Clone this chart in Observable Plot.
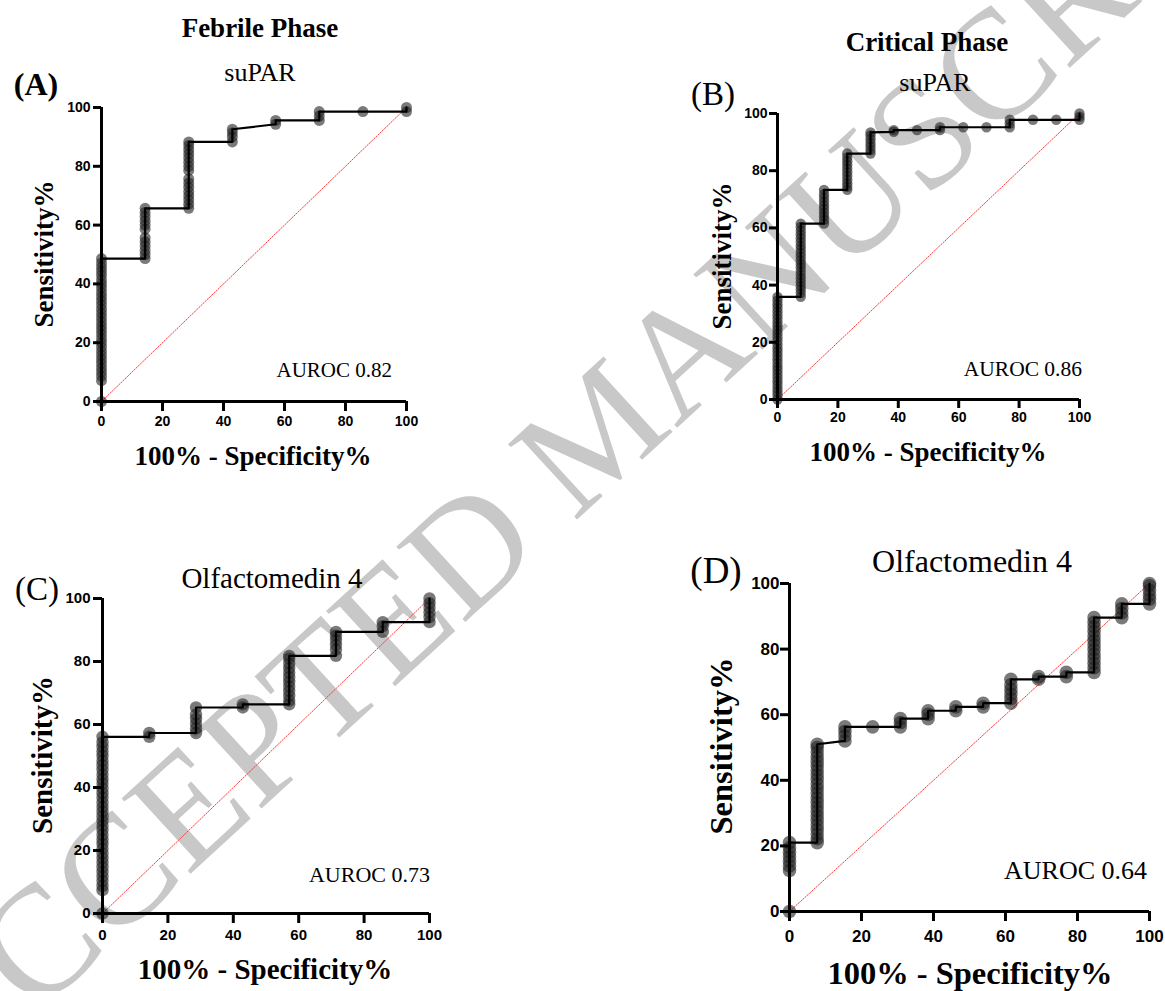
<!DOCTYPE html>
<html>
<head>
<meta charset="utf-8">
<script src="https://cdn.jsdelivr.net/npm/d3@7"></script>
<script src="https://cdn.jsdelivr.net/npm/@observablehq/plot@0.6"></script>
<style>
  body { margin: 0; background: #fff; }
  #root { position: relative; width: 1165px; height: 991px; overflow: hidden; background: #fff; }
  .abs { position: absolute; white-space: nowrap; font-family: "Liberation Serif", "Times New Roman", serif; color: #000; line-height: 1; z-index: 3; }
  .panel { position: absolute; z-index: 2; }
  .panel text { font-family: "Liberation Sans", Arial, sans-serif !important; font-weight: bold !important; fill: #000; }
  #wm { position: absolute; left: 0; top: 0; z-index: 1; }
</style>
</head>
<body>
<div id="root"></div>
<script>
// ---------- data ----------
const tickValues = [0, 20, 40, 60, 80, 100];
const refLine = [0, 100];

// Panel A: Febrile phase, suPAR
const aFpr = [0, 14.3, 28.6, 42.9, 57.1, 71.4, 85.7, 100];
const aSens = [
  [0, 7.1, 8.6, 10, 11.4, 12.9, 14.3, 15.7, 17.1, 18.6, 20, 21.4, 22.9, 24.3, 25.7, 27.1, 28.6, 30, 31.4, 32.9, 34.3, 35.7, 37.1, 38.6, 40, 41.4, 42.9, 44.3, 45.7, 47.1, 48.6],
  [48.6, 50, 51.4, 52.9, 54.3, 55.7, 58.6, 60, 61.4, 62.9, 64.3, 65.7],
  [65.7, 67.1, 68.6, 70, 71.4, 72.9, 74.3, 75.7, 78.6, 80, 81.4, 82.9, 84.3, 85.7, 87.1, 88.3],
  [88.3, 90, 91.4, 92.6],
  [94.3, 95.6],
  [95.6, 97.1, 98.6],
  [98.6],
  [98.6, 100]
];

// Panel B: Critical phase, suPAR
const bFpr = [0, 7.7, 15.4, 23.1, 30.8, 38.5, 46.2, 53.8, 61.5, 69.2, 76.9, 84.6, 92.3, 100];
const bSens = [
  [0, 1.3, 2.6, 3.8, 5.1, 6.4, 7.7, 9, 10.3, 11.5, 12.8, 14.1, 15.4, 16.7, 17.9, 19.2, 20.5, 21.8, 23.1, 24.4, 25.6, 26.9, 28.2, 29.5, 30.8, 32.1, 33.3, 34.6, 35.9],
  [35.9, 37.2, 38.5, 39.7, 41, 42.3, 43.6, 44.9, 46.2, 47.4, 48.7, 50, 51.3, 52.6, 53.8, 55.1, 56.4, 57.7, 59, 60.3, 61.5],
  [61.5, 62.8, 64.1, 65.4, 66.7, 67.9, 69.2, 70.5, 71.8, 73.3],
  [73.3, 74.4, 75.6, 76.9, 78.2, 79.5, 80.8, 82.1, 83.3, 84.6, 86],
  [86, 87.2, 88.5, 89.7, 91, 92.3, 93.4],
  [93.6, 94.2],
  [94.2],
  [94.2, 95.2],
  [95.2],
  [95.2],
  [95.2, 96.5, 97.8],
  [97.8],
  [97.8],
  [97.8, 98.9, 100]
];

// Panel C: Febrile phase, Olfactomedin 4
const cFpr = [0, 14.3, 28.6, 42.9, 57.1, 71.4, 85.7, 100];
const cSens = [
  [0, 7.4, 8.8, 10.3, 11.8, 13.2, 14.7, 16.2, 17.6, 19.1, 20.6, 22.1, 23.5, 25, 26.5, 27.9, 29.4, 30.9, 32.4, 33.8, 35.3, 36.8, 38.2, 39.7, 41.2, 42.6, 44.1, 45.6, 47.1, 48.5, 50, 51.5, 52.9, 54.4, 56.1],
  [56.1, 57.3],
  [57.3, 58.8, 60.3, 61.8, 63.2, 65.4],
  [65.4, 66.4],
  [66.4, 67.6, 69.1, 70.6, 72.1, 73.5, 75, 76.5, 77.9, 79.4, 80.9, 81.8],
  [81.8, 83.8, 85.3, 86.8, 88.2, 89.4],
  [89.4, 91.2, 92.5],
  [92.5, 94.1, 95.6, 97.1, 98.5, 100]
];

// Panel D: Critical phase, Olfactomedin 4
const dFpr = [0, 7.7, 15.4, 23.1, 30.8, 38.5, 46.2, 53.8, 61.5, 69.2, 76.9, 84.6, 92.3, 100];
const dSens = [
  [0, 12.5, 13.9, 15.3, 16.7, 18.1, 19.4, 21],
  [21, 22.2, 23.6, 25, 26.4, 27.8, 29.2, 30.6, 31.9, 33.3, 34.7, 36.1, 37.5, 38.9, 40.3, 41.7, 43.1, 44.4, 45.8, 47.2, 48.6, 50, 51],
  [52, 53.5, 54.9, 56.3],
  [56.3],
  [56.3, 57.6, 58.8],
  [58.8, 60.1, 61.2],
  [61.2, 62.4],
  [62.4, 63.5],
  [63.5, 64.9, 66.3, 67.7, 69.1, 70.8],
  [70.8, 71.6],
  [71.6, 72.9],
  [72.9, 74.3, 75.7, 77.1, 78.5, 79.9, 81.3, 82.6, 84, 85.4, 86.8, 88.2, 89.6],
  [89.6, 91, 92.4, 93.8],
  [93.8, 95.2, 96.5, 97.9, 99.3, 100]
];

const panelLetters = ["(A)", "(B)", "(C)", "(D)"];
const phaseTitles = ["Febrile Phase", "Critical Phase"];
const markerNames = ["suPAR", "suPAR", "Olfactomedin 4", "Olfactomedin 4"];
const aurocLabels = ["AUROC 0.82", "AUROC 0.86", "AUROC 0.73", "AUROC 0.64"];
const xTitle = "100% - Specificity%";
const yTitle = "Sensitivity%";
const watermark = "ACCEPTED MANUSCRIPT";

// ---------- drawing ----------
const root = document.getElementById("root");

function toPoints(fpr, sens) {
  const pts = [];
  fpr.forEach((x, i) => sens[i].forEach(y => pts.push({x, y})));
  return pts;
}

function addText(txt, x, y, size, weight, align, rotate) {
  const d = document.createElement("div");
  d.className = "abs";
  d.textContent = txt;
  d.style.fontSize = size + "px";
  d.style.fontWeight = weight;
  d.style.left = x + "px";
  d.style.top = y + "px";
  const tx = align === "right" ? "-100%" : "-50%";
  d.style.transform = `translate(${tx},-50%)` + (rotate ? ` rotate(${rotate}deg)` : "");
  root.appendChild(d);
}

function panel(cfg) {
  const ml = 50, mr = 20, mt = 15, mb = 40;
  const w = cfg.x1 - cfg.x0, h = cfg.y0 - cfg.y1;
  const pts = toPoints(cfg.fpr, cfg.sens);
  const ref = refLine.map(v => ({x: v, y: v}));
  const font = {fontSize: cfg.fs, fontWeight: "bold", fontFamily: "'Liberation Sans', Arial, sans-serif"};
  const chart = Plot.plot({
    width: w + ml + mr,
    height: h + mt + mb,
    marginLeft: ml, marginRight: mr, marginTop: mt, marginBottom: mb,
    x: {domain: [0, 100], label: null},
    y: {domain: [0, 100], label: null},
    style: {background: "transparent", overflow: "visible", fontFamily: "'Liberation Sans', Arial, sans-serif", fontWeight: "bold", fontSize: cfg.fs + "px", color: "#000"},
    marks: [
      Plot.line(ref, {x: "x", y: "y", stroke: "#ff3b3b", strokeWidth: 1, strokeDasharray: "1.5,1.5"}),
      Plot.dot(pts, {x: "x", y: "y", r: cfg.r, fill: "#222", fillOpacity: 0.6}),
      Plot.line(pts, {x: "x", y: "y", stroke: "#000", strokeWidth: 2.2}),
      Plot.axisX({ticks: tickValues, tickSize: cfg.txs, tickPadding: cfg.txp, strokeWidth: 3, label: null, ...font}),
      Plot.axisY({ticks: tickValues, tickSize: cfg.tys, tickPadding: cfg.typ, strokeWidth: 3, label: null, ...font}),
      Plot.ruleX([0], {strokeWidth: 3, y1: 0, y2: 100}),
      Plot.ruleY([0], {strokeWidth: 3, x1: 0, x2: 100})
    ]
  });
  chart.classList.add("panel");
  chart.style.left = (cfg.x0 - ml) + "px";
  chart.style.top = (cfg.y1 - mt) + "px";
  chart.querySelectorAll("text").forEach(t => t.style.fontSize = cfg.fs + "px");
  root.appendChild(chart);
}

// watermark (behind everything)
const wm = d3.select(root).append("svg").attr("id", "wm").attr("width", 1165).attr("height", 991);
wm.append("text")
  .attr("transform", "translate(596,428) rotate(-42.5)")
  .attr("text-anchor", "middle")
  .attr("dy", "0.35em")
  .attr("font-family", "'Liberation Serif', 'Times New Roman', serif")
  .attr("font-size", 156)
  .attr("fill", "#c8c8c8")
  .text(watermark);

panel({fpr: aFpr, sens: aSens, x0: 101, x1: 406, y0: 401, y1: 107, fs: 14, r: 5.5, txs: 10, txp: 5, tys: 8, typ: 3});
panel({fpr: bFpr, sens: bSens, x0: 777, x1: 1079, y0: 399, y1: 113, fs: 14, r: 5.2, txs: 9, txp: 4, tys: 8, typ: 2});
panel({fpr: cFpr, sens: cSens, x0: 102, x1: 429, y0: 913, y1: 598, fs: 15, r: 6.2, txs: 10, txp: 6, tys: 9, typ: 3});
panel({fpr: dFpr, sens: dSens, x0: 789, x1: 1149, y0: 911, y1: 583, fs: 17, r: 6.8, txs: 10, txp: 8, tys: 9, typ: 1});

// titles and labels
addText(phaseTitles[0], 260, 28, 27, "bold");
addText(phaseTitles[1], 927, 42, 27, "bold");
addText(markerNames[0], 260, 73, 26, "normal");
addText(markerNames[1], 935, 83, 26, "normal");
addText(markerNames[2], 272, 578, 29, "normal");
addText(markerNames[3], 972, 561, 32, "normal");

addText(panelLetters[0], 36, 84, 32, "bold");
addText(panelLetters[1], 713, 94, 33, "normal");
addText(panelLetters[2], 37, 589, 33, "normal");
addText(panelLetters[3], 716, 570, 37, "normal");

addText(yTitle, 44, 254, 27, "bold", null, -90);
addText(yTitle, 722, 256, 27, "bold", null, -90);
addText(yTitle, 42, 755, 29, "bold", null, -90);
addText(yTitle, 721, 746, 32.5, "bold", null, -90);

addText(xTitle, 253, 456, 27, "bold");
addText(xTitle, 928, 452, 27, "bold");
addText(xTitle, 265, 969, 29, "bold");
addText(xTitle, 970, 973, 32.5, "bold");

addText(aurocLabels[0], 392, 370, 21, "normal", "right");
addText(aurocLabels[1], 1082, 370, 21.5, "normal", "right");
addText(aurocLabels[2], 430, 875, 22, "normal", "right");
addText(aurocLabels[3], 1147, 871, 26, "normal", "right");
</script>
</body>
</html>
